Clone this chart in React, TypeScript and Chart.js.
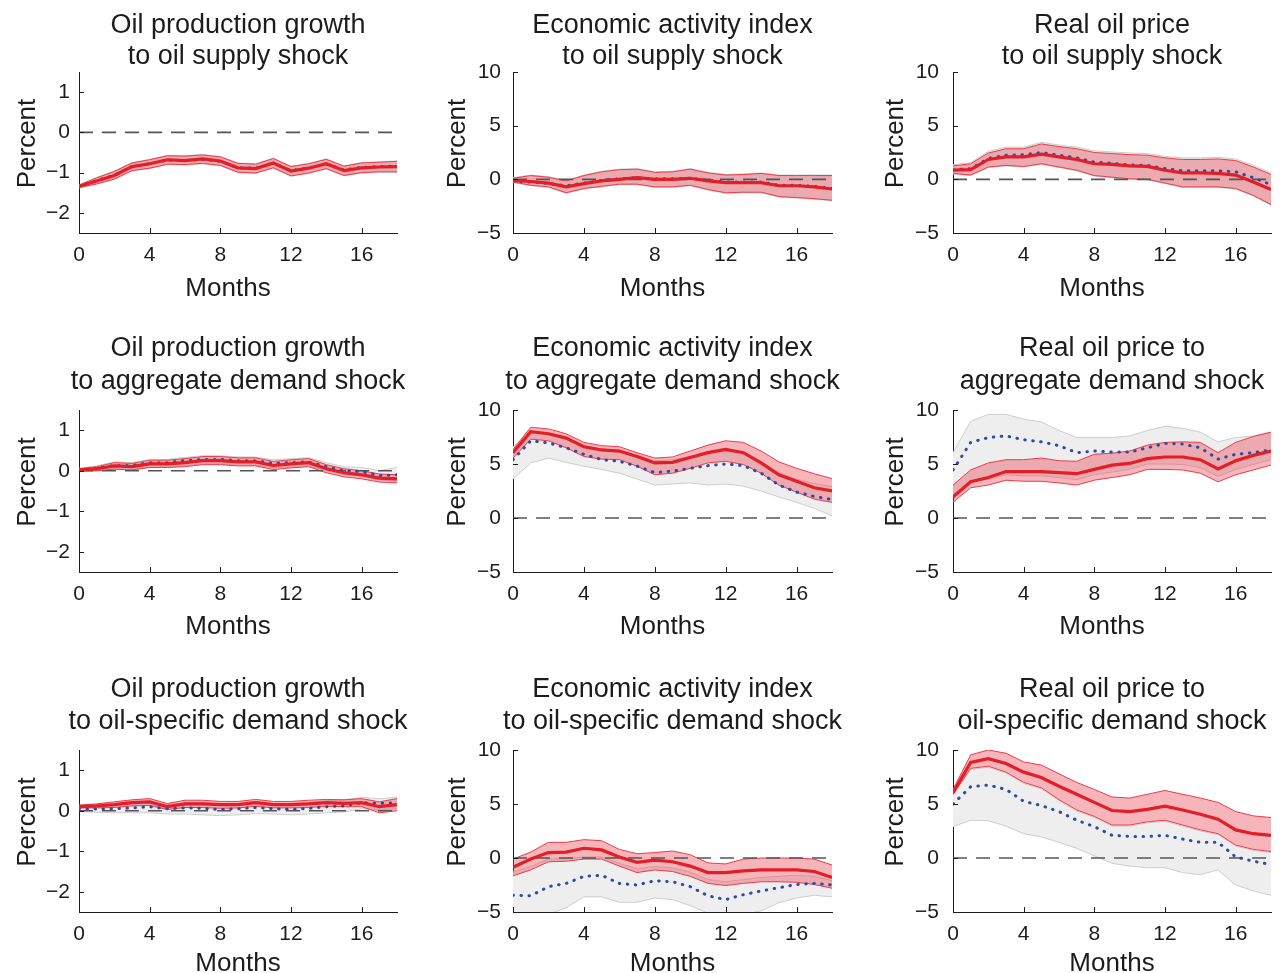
import React, { useEffect, useRef } from 'react';
import { Chart, registerables } from 'chart.js';

Chart.register(...registerables);

// ---------- categories / ticks ----------
const months = [0, 1, 2, 3, 4, 5, 6, 7, 8, 9, 10, 11, 12, 13, 14, 15, 16, 17, 18];
const xTicks = [0, 4, 8, 12, 16];
const prodTicks = [-2, -1, 0, 1];
const pctTicks = [-5, 0, 5, 10];
const zeroLine = [0, 0, 0, 0, 0, 0, 0, 0, 0, 0, 0, 0, 0, 0, 0, 0, 0, 0, 0];

// ---------- Panel 1: oil production growth to oil supply shock ----------
const p11Med = [-1.34, -1.21, -1.07, -0.85, -0.78, -0.68, -0.70, -0.66, -0.71, -0.88, -0.90, -0.76, -0.96, -0.89, -0.78, -0.95, -0.88, -0.86, -0.85];
const p11Hi = [-1.31, -1.13, -0.97, -0.76, -0.68, -0.58, -0.59, -0.56, -0.61, -0.77, -0.79, -0.65, -0.85, -0.78, -0.67, -0.84, -0.76, -0.74, -0.72];
const p11Lo = [-1.37, -1.28, -1.16, -0.95, -0.89, -0.79, -0.80, -0.77, -0.82, -0.99, -1.01, -0.88, -1.08, -1.01, -0.90, -1.07, -1.00, -0.98, -0.98];
const p11Blue = [-1.34, -1.20, -1.06, -0.85, -0.78, -0.69, -0.70, -0.67, -0.72, -0.88, -0.89, -0.77, -0.95, -0.88, -0.79, -0.93, -0.87, -0.85, -0.84];
const p11GHi = [-1.30, -1.12, -0.96, -0.75, -0.67, -0.57, -0.58, -0.55, -0.60, -0.76, -0.78, -0.64, -0.84, -0.77, -0.66, -0.83, -0.75, -0.73, -0.71];
const p11GLo = [-1.38, -1.29, -1.17, -0.96, -0.90, -0.80, -0.81, -0.78, -0.83, -1.00, -1.02, -0.89, -1.09, -1.02, -0.91, -1.08, -1.01, -0.99, -0.99];

// ---------- Panel 2: economic activity index to oil supply shock ----------
const p12Med = [-0.1, -0.2, -0.35, -0.7, -0.4, -0.15, 0, 0.15, 0, 0, 0.1, -0.15, -0.3, -0.3, -0.3, -0.6, -0.6, -0.7, -0.9];
const p12Hi = [0.1, 0.35, 0.2, -0.15, 0.35, 0.7, 0.9, 0.95, 0.65, 0.7, 0.95, 0.6, 0.4, 0.45, 0.55, 0.35, 0.35, 0.35, 0.35];
const p12Lo = [-0.25, -0.55, -0.7, -1.25, -0.85, -0.65, -0.45, -0.45, -0.7, -0.7, -0.55, -0.95, -1.25, -1.2, -1.2, -1.6, -1.7, -1.8, -1.95];
const p12Blue = [-0.15, -0.25, -0.4, -0.6, -0.35, -0.1, 0.05, 0.15, 0.05, 0.05, 0.1, -0.1, -0.25, -0.25, -0.25, -0.55, -0.55, -0.65, -0.85];
const p12GHi = [0.15, 0.4, 0.25, -0.1, 0.4, 0.75, 0.95, 1.0, 0.7, 0.75, 1.0, 0.65, 0.45, 0.5, 0.6, 0.4, 0.4, 0.4, 0.4];
const p12GLo = [-0.3, -0.6, -0.75, -1.3, -0.9, -0.7, -0.5, -0.5, -0.75, -0.75, -0.6, -1.0, -1.3, -1.25, -1.25, -1.65, -1.75, -1.85, -2.0];

// ---------- Panel 3: real oil price to oil supply shock ----------
const p13Med = [0.85, 0.9, 1.85, 2.1, 2.1, 2.35, 2.1, 1.85, 1.45, 1.4, 1.25, 1.2, 0.85, 0.6, 0.6, 0.55, 0.4, -0.25, -0.95];
const p13Hi = [1.25, 1.45, 2.45, 2.85, 2.85, 3.3, 3.05, 2.85, 2.5, 2.4, 2.3, 2.25, 2.0, 1.85, 1.85, 1.9, 1.75, 1.15, 0.45];
const p13Lo = [0.55, 0.4, 1.15, 1.3, 1.2, 1.45, 1.15, 0.85, 0.35, 0.2, 0.05, 0, -0.35, -0.7, -0.7, -0.7, -0.85, -1.5, -2.35];
const p13Blue = [0.9, 1.0, 1.95, 2.25, 2.3, 2.5, 2.25, 2.0, 1.6, 1.5, 1.35, 1.3, 1.0, 0.8, 0.8, 0.8, 0.7, 0.15, -0.5];
const p13GHi = [1.35, 1.55, 2.6, 3.0, 3.0, 3.45, 3.2, 3.0, 2.65, 2.55, 2.45, 2.4, 2.15, 2.0, 2.0, 2.05, 1.9, 1.3, 0.6];
const p13GLo = [0.5, 0.35, 1.1, 1.25, 1.15, 1.4, 1.1, 0.8, 0.3, 0.15, 0.0, -0.05, -0.4, -0.75, -0.75, -0.75, -0.9, -1.55, -2.4];

// ---------- Panel 4: oil production growth to aggregate demand shock ----------
const p21Med = [0.02, 0.05, 0.12, 0.1, 0.17, 0.17, 0.2, 0.25, 0.25, 0.22, 0.22, 0.13, 0.17, 0.2, 0.05, -0.05, -0.1, -0.18, -0.2];
const p21Hi = [0.05, 0.1, 0.2, 0.18, 0.26, 0.26, 0.3, 0.35, 0.35, 0.32, 0.32, 0.23, 0.27, 0.3, 0.15, 0.05, 0.0, -0.08, -0.1];
const p21Lo = [0.0, 0.0, 0.04, 0.02, 0.08, 0.08, 0.1, 0.15, 0.15, 0.12, 0.12, 0.03, 0.07, 0.1, -0.05, -0.15, -0.2, -0.28, -0.3];
const p21Blue = [0.02, 0.06, 0.13, 0.13, 0.2, 0.2, 0.25, 0.28, 0.28, 0.25, 0.25, 0.18, 0.2, 0.22, 0.1, 0.0, -0.02, -0.12, -0.1];
const p21GHi = [0.06, 0.12, 0.22, 0.2, 0.28, 0.28, 0.33, 0.37, 0.37, 0.34, 0.34, 0.27, 0.3, 0.32, 0.2, 0.1, 0.08, 0.0, 0.08];
const p21GLo = [-0.01, -0.01, 0.03, 0.02, 0.09, 0.09, 0.13, 0.17, 0.17, 0.14, 0.14, 0.07, 0.1, 0.12, 0.0, -0.1, -0.13, -0.23, -0.25];

// ---------- Panel 5: economic activity index to aggregate demand shock ----------
const p22Med = [6.05, 8.0, 7.8, 7.4, 6.6, 6.3, 6.2, 5.7, 5.1, 5.15, 5.6, 6.05, 6.35, 6.05, 5.1, 4.0, 3.4, 2.8, 2.5];
const p22Hi = [6.35, 8.4, 8.25, 7.8, 7.0, 6.7, 6.6, 6.05, 5.55, 5.65, 6.2, 6.75, 7.15, 7.0, 6.2, 5.2, 4.6, 4.1, 3.65];
const p22Lo = [5.55, 7.3, 7.15, 6.5, 5.7, 5.45, 5.4, 4.8, 4.0, 4.15, 4.6, 5.1, 5.25, 4.95, 4.15, 3.05, 2.4, 1.75, 1.45];
const p22Blue = [5.4, 7.15, 6.95, 6.5, 5.9, 5.4, 5.25, 4.8, 4.2, 4.35, 4.6, 4.85, 5.0, 4.85, 4.15, 3.05, 2.4, 2.0, 1.7];
const p22GHi = [6.6, 8.0, 7.8, 7.4, 6.7, 6.4, 6.2, 5.8, 5.3, 5.4, 5.7, 6.0, 6.2, 6.0, 5.2, 4.2, 3.6, 3.2, 2.9];
const p22GLo = [3.6, 5.1, 5.55, 5.15, 4.8, 4.5, 4.15, 3.6, 3.05, 3.15, 3.25, 3.05, 3.15, 2.95, 2.5, 1.95, 1.45, 0.9, 0.2];

// ---------- Panel 6: real oil price to aggregate demand shock ----------
const p23Med = [1.95, 3.35, 3.75, 4.3, 4.3, 4.3, 4.2, 4.1, 4.5, 4.9, 5.05, 5.5, 5.65, 5.65, 5.4, 4.55, 5.3, 5.8, 6.2];
const p23Hi = [3.05, 4.45, 5.1, 5.4, 5.4, 5.55, 5.3, 5.25, 5.9, 6.0, 6.2, 6.75, 7.0, 7.05, 7.0, 6.05, 7.0, 7.55, 7.95];
const p23Lo = [1.45, 2.8, 3.05, 3.5, 3.4, 3.4, 3.25, 3.05, 3.5, 3.75, 4.0, 4.5, 4.5, 4.45, 4.15, 3.35, 4.0, 4.45, 4.9];
const p23Blue = [4.45, 7.0, 7.45, 7.6, 7.25, 7.05, 6.7, 6.05, 6.2, 6.1, 6.1, 6.5, 6.9, 6.85, 6.5, 5.45, 5.9, 6.05, 6.3];
const p23GHi = [6.05, 8.95, 9.6, 9.6, 9.15, 8.9, 8.1, 7.45, 7.45, 7.45, 7.6, 8.1, 8.5, 8.3, 7.95, 7.05, 7.45, 7.6, 7.95];
const p23GLo = [2.0, 3.3, 3.6, 4.0, 3.9, 3.9, 3.75, 3.55, 4.0, 4.25, 4.5, 5.0, 5.0, 4.95, 4.65, 3.85, 4.5, 4.95, 5.4];

// ---------- Panel 7: oil production growth to oil-specific demand shock ----------
const p31Med = [0.1, 0.12, 0.15, 0.2, 0.22, 0.1, 0.17, 0.17, 0.15, 0.15, 0.2, 0.15, 0.15, 0.17, 0.2, 0.18, 0.2, 0.1, 0.15];
const p31Hi = [0.14, 0.17, 0.22, 0.27, 0.3, 0.18, 0.26, 0.26, 0.23, 0.23, 0.28, 0.23, 0.23, 0.26, 0.28, 0.27, 0.3, 0.22, 0.3];
const p31Lo = [0.07, 0.07, 0.08, 0.12, 0.13, 0.03, 0.08, 0.08, 0.06, 0.07, 0.11, 0.07, 0.07, 0.08, 0.11, 0.1, 0.1, -0.05, 0.0];
const p31Blue = [0.05, 0.04, 0.05, 0.07, 0.1, 0.05, 0.07, 0.06, 0.03, 0.05, 0.08, 0.05, 0.03, 0.06, 0.1, 0.12, 0.2, 0.18, 0.2];
const p31GHi = [0.12, 0.13, 0.15, 0.2, 0.22, 0.15, 0.2, 0.2, 0.17, 0.18, 0.22, 0.18, 0.17, 0.2, 0.25, 0.27, 0.33, 0.3, 0.33];
const p31GLo = [-0.02, -0.04, -0.05, -0.05, -0.05, -0.08, -0.08, -0.1, -0.12, -0.1, -0.07, -0.08, -0.1, -0.08, -0.05, -0.03, 0.05, 0.03, 0.05];

// ---------- Panel 8: economic activity index to oil-specific demand shock ----------
const p32Med = [-0.85, -0.1, 0.5, 0.55, 0.9, 0.75, 0.1, -0.4, -0.2, -0.35, -0.75, -1.35, -1.35, -1.2, -1.1, -1.1, -1.1, -1.25, -1.8];
const p32Hi = [-0.1, 0.55, 1.45, 1.45, 1.7, 1.6, 0.8, 0.4, 0.5, 0.65, 0.3, -0.45, -0.55, -0.1, 0, 0, 0, -0.1, -0.65];
const p32Lo = [-1.65, -1.1, -0.35, -0.3, -0.1, -0.1, -0.75, -1.35, -1.1, -1.25, -1.7, -2.35, -2.55, -2.35, -2.2, -2.2, -2.25, -2.45, -2.8];
const p32Blue = [-3.45, -3.5, -2.65, -2.35, -1.7, -1.6, -2.35, -2.5, -2.1, -2.2, -2.65, -3.5, -3.85, -3.4, -3.05, -2.75, -2.45, -2.35, -2.5];
const p32GHi = [-1.3, -0.8, -0.1, -0.05, 0.1, 0.1, -0.5, -1.0, -0.8, -0.9, -1.3, -2.0, -2.2, -2.0, -1.8, -1.7, -1.6, -1.7, -2.1];
const p32GLo = [-5.5, -5.5, -5.2, -4.6, -3.6, -3.6, -4.1, -4.1, -3.7, -3.85, -4.4, -5.1, -5.3, -5.2, -4.9, -4.15, -3.7, -3.45, -3.6];

// ---------- Panel 9: real oil price to oil-specific demand shock ----------
const p33Med = [6.05, 8.85, 9.2, 8.75, 7.95, 7.45, 6.65, 5.9, 5.15, 4.4, 4.3, 4.5, 4.8, 4.45, 4.05, 3.6, 2.6, 2.25, 2.1];
const p33Hi = [6.35, 9.55, 10.0, 9.7, 8.9, 8.6, 7.8, 7.0, 6.35, 5.65, 5.55, 5.9, 6.25, 5.9, 5.55, 5.15, 4.3, 3.9, 3.75];
const p33Lo = [5.9, 8.3, 8.5, 7.95, 7.0, 6.5, 5.4, 4.45, 3.85, 3.05, 3.05, 3.35, 3.5, 3.05, 2.6, 2.25, 1.2, 0.8, 0.6];
const p33Blue = [5.0, 6.6, 6.75, 6.35, 5.25, 4.85, 4.3, 3.5, 2.9, 2.1, 2.0, 2.0, 2.1, 1.75, 1.45, 1.45, 0.1, -0.3, -0.6];
const p33GHi = [5.8, 8.2, 8.4, 7.85, 6.9, 6.4, 5.3, 4.35, 3.75, 2.95, 2.95, 3.25, 3.4, 2.95, 2.5, 2.15, 1.1, 0.7, 0.5];
const p33GLo = [2.9, 3.5, 3.45, 2.95, 2.25, 1.95, 1.45, 0.9, 0.2, -0.5, -0.75, -0.9, -0.9, -1.35, -1.55, -1.1, -2.5, -3.05, -3.45];

// ---------- layout ----------
const COLS = [
  { cl: 0, cw: 430, pl: 79, pr: 397, tickPad: 9, percentX: 34.5 },
  { cl: 430, cw: 438, pl: 513, pr: 832, tickPad: 12, percentX: 464.5 },
  { cl: 868, cw: 417, pl: 953, pr: 1271, tickPad: 14, percentX: 902.5 },
];
const ROWS = [
  { ct: 0, ch: 305, pt: 72, pb: 233, t1: 33, t2: 64, mb: 296, mdx: -10 },
  { ct: 305, ch: 340, pt: 410, pb: 572, t1: 356, t2: 389, mb: 634, mdx: -10 },
  { ct: 645, ch: 328, pt: 750, pb: 912, t1: 697, t2: 729, mb: 971, mdx: 0 },
];

const FONT = '"Liberation Sans", Arial, Helvetica, sans-serif';
const TXT = '#1c1c1c';

type PanelSpec = {
  row: number;
  col: number;
  title: string[];
  med: number[];
  hi: number[];
  lo: number[];
  blue: number[];
  gHi: number[];
  gLo: number[];
  yMin: number;
  yMax: number;
  yTicks: number[];
};

const panels: PanelSpec[] = [
  { row: 0, col: 0, title: ['Oil production growth', 'to oil supply shock'], med: p11Med, hi: p11Hi, lo: p11Lo, blue: p11Blue, gHi: p11GHi, gLo: p11GLo, yMin: -2.5, yMax: 1.5, yTicks: prodTicks },
  { row: 0, col: 1, title: ['Economic activity index', 'to oil supply shock'], med: p12Med, hi: p12Hi, lo: p12Lo, blue: p12Blue, gHi: p12GHi, gLo: p12GLo, yMin: -5, yMax: 10, yTicks: pctTicks },
  { row: 0, col: 2, title: ['Real oil price', 'to oil supply shock'], med: p13Med, hi: p13Hi, lo: p13Lo, blue: p13Blue, gHi: p13GHi, gLo: p13GLo, yMin: -5, yMax: 10, yTicks: pctTicks },
  { row: 1, col: 0, title: ['Oil production growth', 'to aggregate demand shock'], med: p21Med, hi: p21Hi, lo: p21Lo, blue: p21Blue, gHi: p21GHi, gLo: p21GLo, yMin: -2.5, yMax: 1.5, yTicks: prodTicks },
  { row: 1, col: 1, title: ['Economic activity index', 'to aggregate demand shock'], med: p22Med, hi: p22Hi, lo: p22Lo, blue: p22Blue, gHi: p22GHi, gLo: p22GLo, yMin: -5, yMax: 10, yTicks: pctTicks },
  { row: 1, col: 2, title: ['Real oil price to', 'aggregate demand shock'], med: p23Med, hi: p23Hi, lo: p23Lo, blue: p23Blue, gHi: p23GHi, gLo: p23GLo, yMin: -5, yMax: 10, yTicks: pctTicks },
  { row: 2, col: 0, title: ['Oil production growth', 'to oil-specific demand shock'], med: p31Med, hi: p31Hi, lo: p31Lo, blue: p31Blue, gHi: p31GHi, gLo: p31GLo, yMin: -2.5, yMax: 1.5, yTicks: prodTicks },
  { row: 2, col: 1, title: ['Economic activity index', 'to oil-specific demand shock'], med: p32Med, hi: p32Hi, lo: p32Lo, blue: p32Blue, gHi: p32GHi, gLo: p32GLo, yMin: -5, yMax: 10, yTicks: pctTicks },
  { row: 2, col: 2, title: ['Real oil price to', 'oil-specific demand shock'], med: p33Med, hi: p33Hi, lo: p33Lo, blue: p33Blue, gHi: p33GHi, gLo: p33GLo, yMin: -5, yMax: 10, yTicks: pctTicks },
];

const toXY = (arr: number[]) => arr.map((v, i) => ({ x: months[i], y: v }));
const fmt = (v: number) => (v < 0 ? '\u2212' + Math.abs(v) : String(v));

function Panel({ spec }: { spec: PanelSpec }) {
  const ref = useRef<HTMLCanvasElement | null>(null);
  const col = COLS[spec.col];
  const row = ROWS[spec.row];

  useEffect(() => {
    if (!ref.current) return;
    const deco = {
      id: 'deco',
      afterDraw(chart: any) {
        const { ctx, chartArea: a, scales } = chart;
        const xs = scales.x;
        const ys = scales.y;
        ctx.save();
        ctx.strokeStyle = TXT;
        ctx.lineWidth = 1;
        xTicks.forEach((v) => {
          const px = Math.round(xs.getPixelForValue(v)) + 0.5;
          ctx.beginPath();
          ctx.moveTo(px, a.bottom);
          ctx.lineTo(px, a.bottom - 5);
          ctx.stroke();
        });
        spec.yTicks.forEach((v) => {
          const py = Math.round(ys.getPixelForValue(v)) + 0.5;
          ctx.beginPath();
          ctx.moveTo(a.left, py);
          ctx.lineTo(a.left + 5, py);
          ctx.stroke();
        });
        ctx.fillStyle = TXT;
        ctx.textAlign = 'center';
        ctx.textBaseline = 'alphabetic';
        const cx = (a.left + a.right) / 2;
        ctx.font = '27px ' + FONT;
        ctx.fillText(spec.title[0], cx, row.t1 - row.ct);
        ctx.fillText(spec.title[1], cx, row.t2 - row.ct);
        ctx.font = '26px ' + FONT;
        ctx.fillText('Months', cx + row.mdx, row.mb - row.ct);
        ctx.translate(col.percentX - col.cl, (a.top + a.bottom) / 2 - 9);
        ctx.rotate(-Math.PI / 2);
        ctx.fillText('Percent', 0, 0);
        ctx.restore();
      },
    };

    const chart = new Chart(ref.current, {
      type: 'line',
      data: {
        datasets: [
          { data: toXY(spec.gLo), borderColor: '#cdcdcd', borderWidth: 1, fill: false, pointRadius: 0, order: 6 },
          { data: toXY(spec.gHi), borderColor: '#cdcdcd', borderWidth: 1, fill: '-1', backgroundColor: '#eeeeee', pointRadius: 0, order: 6 },
          { data: toXY(spec.lo), borderColor: '#ef3a48', borderWidth: 1, fill: false, pointRadius: 0, order: 4 },
          { data: toXY(spec.hi), borderColor: '#ef3a48', borderWidth: 1, fill: '-1', backgroundColor: 'rgba(232,60,75,0.38)', pointRadius: 0, order: 4 },
          { data: toXY(zeroLine), borderColor: '#555555', borderWidth: 1.6, borderDash: [14, 9], fill: false, pointRadius: 0, order: 3 },
          { data: toXY(spec.blue), borderColor: '#2f49a8', borderWidth: 3, borderDash: [0.5, 7.5], borderCapStyle: 'round', fill: false, pointRadius: 0, order: 2 },
          { data: toXY(spec.med), borderColor: '#e41e26', borderWidth: 3.2, fill: false, pointRadius: 0, order: 1 },
        ] as any,
      },
      options: {
        responsive: false,
        maintainAspectRatio: false,
        animation: false,
        devicePixelRatio: 1,
        events: [],
        layout: {
          padding: {
            left: 0,
            top: row.pt - row.ct,
            right: col.cl + col.cw - col.pr,
            bottom: 0,
          },
        },
        plugins: {
          legend: { display: false },
          tooltip: { enabled: false },
          title: { display: false },
        },
        scales: {
          x: {
            type: 'linear',
            min: 0,
            max: 18,
            afterBuildTicks: (s: any) => {
              s.ticks = xTicks.map((v) => ({ value: v }));
            },
            afterFit: (s: any) => {
              s.height = row.ct + row.ch - row.pb;
            },
            grid: { display: false, drawTicks: false },
            border: { display: true, color: TXT, width: 1 },
            ticks: {
              padding: 10,
              maxRotation: 0,
              autoSkip: false,
              color: TXT,
              font: { size: 21, family: FONT },
              callback: (v: any) => fmt(Number(v)),
            },
          },
          y: {
            type: 'linear',
            min: spec.yMin,
            max: spec.yMax,
            afterBuildTicks: (s: any) => {
              s.ticks = spec.yTicks.map((v) => ({ value: v }));
            },
            afterFit: (s: any) => {
              s.width = col.pl - col.cl;
            },
            grid: { display: false, drawTicks: false },
            border: { display: true, color: TXT, width: 1 },
            ticks: {
              padding: col.tickPad,
              autoSkip: false,
              color: TXT,
              font: { size: 21, family: FONT },
              callback: (v: any) => fmt(Number(v)),
            },
          },
        },
      } as any,
      plugins: [deco],
    });
    return () => chart.destroy();
  }, []);

  return (
    <canvas
      ref={ref}
      width={col.cw}
      height={row.ch}
      style={{ position: 'absolute', left: col.cl, top: row.ct, width: col.cw, height: row.ch }}
    />
  );
}

export default function App() {
  return (
    <div style={{ position: 'absolute', left: 0, top: 0, width: 1285, height: 973, background: '#ffffff', overflow: 'hidden' }}>
      {panels.map((p, i) => (
        <Panel key={i} spec={p} />
      ))}
    </div>
  );
}
